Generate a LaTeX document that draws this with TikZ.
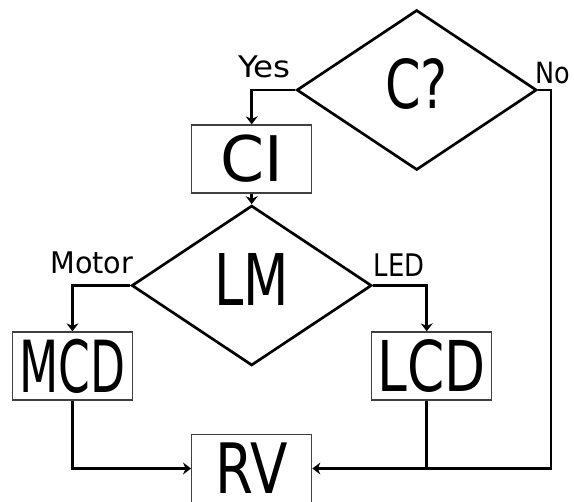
\documentclass[tikz,border=0pt]{standalone}
\usepackage{fontspec}
\setmainfont{DejaVu Sans Condensed}
\usetikzlibrary{shapes.geometric,arrows.meta,calc}
\tikzset{
  box/.style={draw=black!75,line width=1pt,minimum width=90pt,minimum height=51pt,inner sep=0pt},
  dec/.style={diamond,draw,line width=2pt,minimum width=180pt,minimum height=120pt,inner sep=0pt,text depth=9pt},
  lab/.style={inner sep=0pt},
  conn/.style={line width=1.9pt,-{Stealth[length=6pt,width=9pt]}},
  seg/.style={line width=1.9pt},
}
\begin{document}
\begin{tikzpicture}[x=0.75pt,y=-0.75pt]
\useasboundingbox (0,0) rectangle (574,502);
\node[dec] (C) at (416.7,90) {\resizebox{47pt}{37.5pt}{C?}};
\node[box] (CI) at (251.7,159) {\resizebox{47pt}{35pt}{CI}};
\node[dec] (LM) at (251.7,285.5) {\resizebox{56pt}{39pt}{LM}};
\node[box] (MCD) at (72.5,366) {\resizebox{79.5pt}{40pt}{MCD}};
\node[box] (LCD) at (431.7,366) {\resizebox{81pt}{39pt}{LCD}};
\node[box] (RV) at (251.7,468.5) {\resizebox{54pt}{38pt}{RV}};
\node[lab] (yes) at (264.5,67) {\resizebox{39pt}{16.3pt}{Yes}};
\node[lab] (no) at (553,73.5) {\resizebox{26pt}{16pt}{No}};
\node[lab] (motor) at (91.7,262.5) {\resizebox{62pt}{16.3pt}{Motor}};
\node[lab] (led) at (399,264.7) {\resizebox{38pt}{17pt}{LED}};
\coordinate (nocorner) at (551,468.5);
\coordinate (lcdin) at ($(LCD.north)+(-5,0)$);
\coordinate (lcdout) at ($(LCD.south)+(-5,0)$);
\draw[conn] (C.west) -| (CI.north);
\draw[conn] (CI.south) -- (LM.north);
\draw[conn] (LM.west) -| (MCD.north);
\draw[conn] (LM.east) -| (lcdin);
\draw[conn] (MCD.south) |- (RV.west);
\draw[seg] (lcdout) -- (lcdout |- RV.east);
\draw[conn] (C.east) -| (nocorner) -- (RV.east);
\end{tikzpicture}
\end{document}
